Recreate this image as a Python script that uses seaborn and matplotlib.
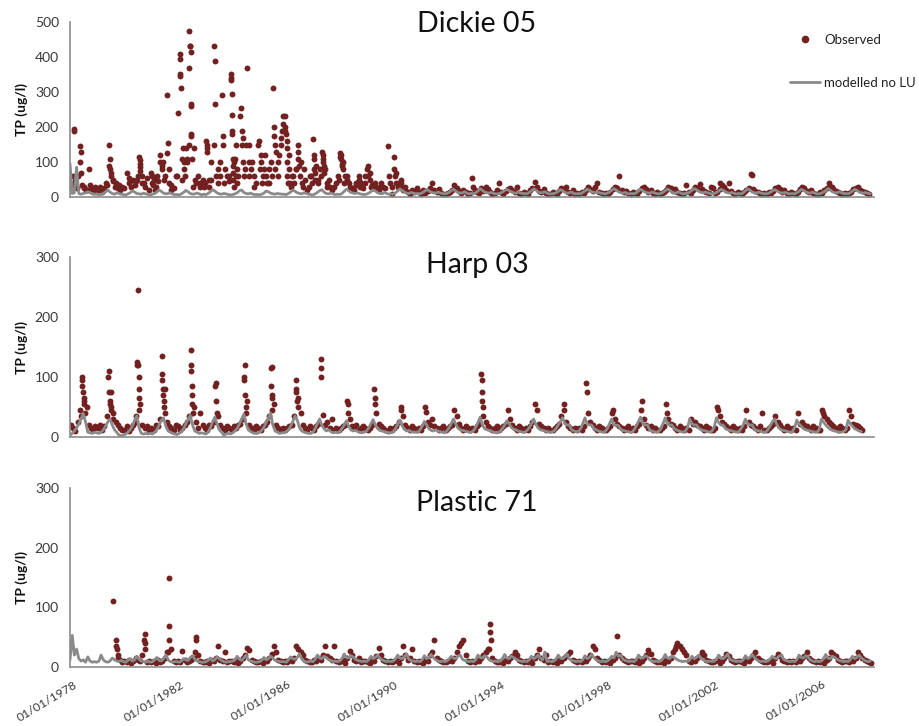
import numpy as np
import pandas as pd
import matplotlib
matplotlib.use("Agg")
import matplotlib.pyplot as plt
import matplotlib.dates as mdates
import matplotlib.transforms as mtransforms
from matplotlib.lines import Line2D
import seaborn as sns

N = None

# ---------------- Dickie 05 ----------------
dickie_obs = [
    30, 60, 40, 60, 100, 35, 25, 20, 80, 25, 15, 30,
    20, 30, 15, 25, 35, 90, 60, 45, 40, 25, 20, 30,
    25, 70, 40, 30, 50, 45, 60, 95, 40, 30, 55, 20,
    70, 50, 30, 45, 100, 80, 60, 125, 40, 35, 25, 60,
    240, 345, 110, 60, 100, 150, 180, 140, 40, 60, 30, 50,
    40, 150, 30, 50, 150, 60, 40, 100, 175, 80, 60, 45,
    190, 100, 150, 60, 230, 170, 80, 370, 150, 100, 60, 40,
    150, 100, 60, 120, 40, 80, 60, 200, 130, 100, 150, 210,
    200, 160, 120, 60, 40, 80, 150, 100, 30, 50, 20, 60,
    40, 120, 90, 50, 60, 110, 80, 40, 30, 20, 30, 40,
    50, 120, 100, 60, 50, 30, 25, 20, 35, 60, 40, 25,
    60, 90, 70, 35, 30, 25, 20, 40, 30, 25, 145, 40,
    30, 115, 70, 40, 50, 20, 30, 15, 10, 20, 15, 25,
    15, 10, 20, 12, 18, 25, 40, 20, 15, 22, 12, 10,
    8, 12, 15, 20, 35, 25, 18, 12, 20, 15, 10, 12,
    55, 20, 15, 12, 25, 18, 30, 22, 15, 10, 12, 20,
    40, 15, 10, 18, 22, 25, 20, 15, 28, 12, 10, 15,
    12, 10, 20, 25, 44, 30, 18, 15, 22, 12, 8, 10,
    15, 12, 10, 18, 25, 22, 30, 15, 12, 20, 10, 12,
    10, 15, 12, 20, 28, 22, 18, 30, 40, 15, 12, 10,
    12, 10, 15, 22, 30, 25, 61, 20, 15, 18, 12, 10,
    15, 12, 10, 18, 25, 30, 22, 15, 20, 12, 10, 15,
    10, 12, 15, 20, 28, 25, 18, 22, 15, 12, 10, 12,
    35, 15, 12, 20, 30, 25, 38, 22, 18, 15, 12, 30,
    25, 12, 15, 22, 35, 30, 20, 40, 18, 12, 10, 15,
    12, 10, 15, 20, 25, 65, 22, 18, 15, 12, 10, 12,
    10, 15, 12, 18, 25, 30, 22, 15, 20, 12, 10, 15,
    12, 10, 15, 22, 28, 25, 18, 15, 20, 12, 10, 10,
    15, 12, 20, 25, 40, 30, 22, 18, 15, 12, 10, 12,
    10, 12, 15, 22, 25, 30, 20, 18, 15, 12, 10, N,
]
dickie_extra_dates = [
    "1978-02-20", "1978-02-25", "1978-05-20", "1978-05-28", "1978-06-05",
    "1978-03-10", "1978-04-05", "1978-07-10", "1978-08-05", "1978-10-05", "1978-11-10",
    "1979-06-20", "1979-06-25", "1979-07-02", "1979-07-10",
    "1979-02-10", "1979-04-10", "1979-05-05", "1979-08-05", "1979-09-05", "1979-11-05",
    "1980-08-05", "1980-08-10", "1980-08-15", "1980-08-20",
    "1980-03-10", "1980-04-05", "1980-06-05", "1980-07-05", "1980-09-05", "1980-10-05",
    "1981-01-20", "1981-01-25", "1981-05-10", "1981-06-10", "1981-08-20", "1981-09-05", "1981-09-10",
    "1981-02-10", "1981-03-10", "1981-04-05", "1981-06-25", "1981-07-05", "1981-10-05",
    "1982-02-05", "1982-02-10", "1982-02-15", "1982-02-25", "1982-03-25", "1982-04-05", "1982-04-10",
    "1982-06-15", "1982-06-20", "1982-06-25", "1982-07-01", "1982-07-05", "1982-07-08", "1982-07-10",
    "1982-07-15", "1982-07-20",
    "1982-01-05", "1982-03-05", "1982-05-05", "1982-05-20", "1982-08-05", "1982-09-05", "1982-11-05",
    "1983-02-05", "1983-02-10", "1983-02-20", "1983-05-20", "1983-05-28", "1983-06-05", "1983-09-10",
    "1983-09-15",
    "1983-01-05", "1983-03-10", "1983-04-10", "1983-07-10", "1983-08-05", "1983-10-10", "1983-12-05",
    "1984-01-05", "1984-01-08", "1984-01-12", "1984-01-15", "1984-01-20", "1984-01-25", "1984-02-01",
    "1984-02-05", "1984-02-08", "1984-02-10", "1984-02-12", "1984-03-05", "1984-03-25", "1984-05-25",
    "1984-06-01", "1984-06-05", "1984-09-05", "1984-09-10",
    "1984-03-15", "1984-04-05", "1984-06-20", "1984-07-05", "1984-08-05", "1984-10-05", "1984-11-20",
    "1985-01-20", "1985-02-10", "1985-03-10", "1985-08-10", "1985-08-20", "1985-08-25", "1985-10-20",
    "1985-11-20", "1985-12-05", "1985-12-20",
    "1985-02-20", "1985-04-05", "1985-05-05", "1985-06-05", "1985-07-10", "1985-09-05", "1985-10-05",
    "1986-01-10", "1986-01-15", "1986-01-25", "1986-02-05", "1986-02-10", "1986-02-15", "1986-02-20",
    "1986-06-20", "1986-07-05", "1986-07-10", "1986-07-20",
    "1986-03-05", "1986-03-20", "1986-04-10", "1986-05-10", "1986-08-05", "1986-09-05", "1986-10-05",
    "1986-12-05",
    "1987-02-05", "1987-02-10", "1987-02-20", "1987-02-25", "1987-06-10", "1987-06-15", "1987-06-20",
    "1987-06-25", "1987-07-05",
    "1987-01-05", "1987-03-05", "1987-04-05", "1987-05-05", "1987-08-05", "1987-09-05",
    "1988-02-05", "1988-02-10", "1988-02-20", "1988-02-25", "1988-03-05", "1988-03-10", "1988-10-20",
    "1988-01-10", "1988-04-05", "1988-05-05", "1988-06-05", "1988-09-05", "1988-11-05",
    "1989-02-05", "1989-02-15", "1989-03-20", "1989-05-20", "1989-06-10",
    "1989-01-10", "1989-04-05", "1989-05-05", "1989-08-05", "1989-12-05",
    "1990-01-20", "1990-02-10", "1990-02-20", "1990-05-20",
    "1990-03-05", "1990-04-05", "1990-06-05", "1990-07-05",
    "1993-01-25", "2002-04-20", "2003-07-05", "2006-06-20",
]
dickie_extra_vals = [
    195, 190, 145, 130, 70,
    45, 25, 30, 20, 35, 20,
    150, 110, 80, 70,
    25, 20, 40, 50, 30, 35,
    115, 105, 85, 75,
    55, 45, 35, 50, 60, 40,
    60, 40, 120, 90, 290, 155, 80,
    35, 20, 60, 100, 50, 20,
    410, 395, 350, 310, 140, 100, 80,
    370, 475, 430, 430, 415, 175, 265,
    260, 110,
    60, 50, 140, 110, 30, 50, 40,
    160, 140, 130, 430, 390, 265, 290,
    150,
    30, 50, 100, 80, 60, 40, 60,
    350, 340, 335, 295, 235, 180, 110,
    90, 70, 50, 30, 110, 80, 255,
    190, 150, 100, 60,
    60, 40, 100, 60, 150, 80, 30,
    160, 80, 40, 310, 175, 150, 120,
    170, 190, 230,
    120, 80, 60, 40, 100, 80, 60,
    230, 190, 180, 140, 100, 60, 40,
    80, 130, 110, 90,
    80, 40, 30, 60, 60, 40, 80,
    30,
    165, 110, 80, 70, 130, 120, 100,
    90, 70,
    60, 50, 40, 80, 30, 50,
    125, 115, 110, 95, 90, 80, 50,
    60, 40, 60, 40, 40, 30,
    80, 60, 50, 40, 30,
    40, 30, 25, 30, 60,
    10, 80, 60, 40,
    40, 30, 25, 20,
    30, 40, 62, 30,
]
dickie_mod = [
    95, 10, 12, 85, 10, 8, 10, 12, 15, 12, 10, 8,
    8, 6, 8, 10, 15, 20, 14, 10, 8, 12, 10, 8,
    7, 6, 9, 12, 18, 14, 10, 9, 8, 11, 9, 7,
    6, 8, 10, 14, 20, 16, 11, 9, 10, 12, 8, 7,
    7, 6, 9, 13, 19, 15, 10, 8, 9, 11, 9, 6,
    8, 7, 10, 15, 21, 17, 12, 9, 8, 10, 9, 7,
    6, 7, 9, 12, 18, 20, 13, 10, 9, 11, 8, 7,
    7, 6, 8, 11, 17, 15, 11, 9, 8, 10, 9, 8,
    8, 7, 10, 14, 20, 16, 12, 10, 9, 12, 10, 8,
    7, 6, 9, 13, 18, 21, 14, 10, 9, 11, 9, 7,
    8, 7, 10, 16, 22, 18, 13, 11, 10, 12, 9, 8,
    7, 8, 11, 15, 20, 17, 12, 10, 9, 13, 10, 8,
    9, 8, 12, 17, 23, 19, 14, 11, 10, 13, 11, 9,
    10, 9, 12, 16, 21, 18, 14, 12, 11, 14, 12, 10,
    9, 10, 13, 18, 22, 17, 13, 11, 12, 15, 11, 9,
    10, 9, 12, 17, 24, 19, 14, 12, 11, 13, 10, 9,
    9, 11, 14, 19, 22, 18, 15, 12, 11, 14, 12, 10,
    10, 9, 13, 18, 23, 20, 14, 12, 13, 15, 11, 9,
    9, 10, 12, 16, 21, 18, 13, 11, 12, 14, 10, 9,
    10, 9, 13, 17, 22, 19, 15, 13, 12, 14, 11, 10,
    9, 11, 14, 19, 24, 20, 15, 12, 11, 13, 10, 9,
    10, 9, 12, 17, 22, 18, 14, 12, 11, 14, 12, 10,
    9, 10, 13, 18, 23, 19, 14, 11, 12, 15, 11, 9,
    10, 11, 14, 19, 24, 21, 16, 13, 12, 14, 12, 10,
    9, 10, 13, 17, 22, 19, 15, 12, 11, 13, 10, 9,
    10, 9, 12, 18, 23, 20, 14, 12, 11, 14, 11, 10,
    9, 10, 13, 17, 21, 18, 14, 11, 12, 13, 10, 9,
    10, 9, 12, 16, 22, 19, 15, 12, 11, 14, 11, 9,
    9, 11, 14, 18, 24, 20, 15, 12, 12, 15, 12, 10,
    10, 9, 12, 17, 22, 19, 14, 12, 11, 13, 10, 9,
]

# ---------------- Harp 03 ----------------
harp_obs = [
    20, 15, 10, 25, 45, 100, 60, 50, 20, 15, 12, 18,
    15, 20, 12, 18, 35, 110, 75, 40, 25, 20, 15, 12,
    12, 18, 10, 15, 20, 25, 120, 55, 20, 15, 18, 12,
    15, 12, 20, 18, 30, 105, 80, 25, 18, 15, 12, 20,
    18, 12, 15, 20, 25, 35, 145, 50, 25, 15, 40, 20,
    15, 12, 20, 18, 25, 90, 35, 20, 15, 12, 18, 15,
    12, 18, 15, 20, 22, 30, 120, 60, 20, 15, 12, 18,
    15, 12, 18, 20, 25, 35, 117, 55, 20, 15, 12, 15,
    12, 15, 18, 20, 35, 95, 65, 40, 20, 15, 12, 18,
    15, 12, 18, 22, 130, 37, 20, 25, 15, 30, 12, 15,
    12, 15, 18, 20, 60, 30, 18, 15, 20, 12, 15, 18,
    15, 12, 15, 20, 80, 40, 22, 18, 15, 12, 10, 15,
    12, 15, 18, 25, 50, 35, 20, 15, 12, 18, 15, 12,
    15, 12, 18, 50, 25, 20, 30, 18, 15, 12, 15, 18,
    12, 15, 18, 20, 45, 35, 22, 15, 12, 18, 15, 12,
    15, 12, 18, 22, 105, 50, 25, 18, 15, 12, 15, 18,
    12, 15, 18, 22, 45, 30, 20, 15, 12, 18, 15, 12,
    15, 12, 18, 25, 55, 45, 22, 18, 15, 12, 15, 12,
    12, 15, 18, 22, 35, 55, 25, 18, 15, 12, 15, 12,
    15, 12, 18, 90, 40, 25, 20, 15, 12, 18, 15, 12,
    12, 15, 18, 45, 30, 22, 18, 15, 12, 15, 18, 12,
    15, 12, 18, 22, 60, 30, 20, 15, 18, 12, 15, 12,
    12, 15, 18, 55, 30, 22, 20, 15, 12, 18, 15, 12,
    15, 12, 30, 22, 25, 20, 18, 15, 12, 18, 15, 12,
    12, 15, 50, 35, 25, 22, 18, 15, 12, 18, 15, 12,
    15, 12, 18, 45, 25, 20, 18, 15, 12, 18, 40, 12,
    12, 15, 18, 22, 35, 25, 20, 15, 12, 18, 15, 12,
    15, 12, 40, 22, 25, 20, 18, 15, 12, 18, 15, 12,
    12, 45, 35, 30, 25, 22, 18, 15, 12, 18, 15, 12,
    15, 45, 35, 22, 20, 18, 15, 12, N, N, N, N,
]
harp_extra_dates = [
    "1978-06-01", "1978-06-10", "1978-06-20", "1978-06-25", "1978-07-05", "1978-07-10", "1978-07-20",
    "1979-06-10", "1979-06-20", "1979-06-25", "1979-07-01", "1979-07-10", "1979-07-20", "1979-08-05",
    "1980-06-20", "1980-07-05", "1980-07-10", "1980-07-20", "1980-07-25", "1980-07-28", "1980-08-01",
    "1980-08-05",
    "1981-06-05", "1981-06-15", "1981-06-20", "1981-06-25", "1981-07-05", "1981-07-10", "1981-07-20",
    "1982-07-05", "1982-07-10", "1982-07-20", "1982-07-25", "1982-07-28", "1982-08-01",
    "1983-06-10", "1983-06-20", "1983-06-25",
    "1984-07-05", "1984-07-10", "1984-07-20", "1984-07-25", "1984-08-01",
    "1985-07-05", "1985-07-10", "1985-07-15", "1985-07-20", "1985-07-25",
    "1986-06-10", "1986-06-20", "1986-06-25", "1986-07-05",
    "1987-05-20", "1987-05-25", "1988-05-20", "1988-05-25", "1989-05-20", "1989-05-25",
    "1990-05-20", "1991-04-25",
    "1993-05-20", "1993-05-25", "1993-06-01", "1993-06-05",
    "1996-06-15", "1997-04-25", "1998-04-10", "1999-05-05", "2000-04-25", "2002-03-25", "2006-02-25",
]
harp_extra_vals = [
    35, 95, 85, 75, 65, 55, 40,
    100, 75, 60, 55, 50, 45, 30,
    35, 125, 120, 245, 100, 80, 65,
    45,
    135, 95, 80, 70, 60, 50, 40,
    120, 110, 85, 70, 55, 40,
    85, 60, 40,
    100, 95, 70, 50, 40,
    115, 85, 70, 65, 45,
    80, 75, 60, 50,
    115, 100, 55, 40, 65, 55,
    45, 42,
    95, 75, 60, 35,
    45, 75, 40, 45, 40, 45, 40,
]
harp_mod = [
    3, 6, 10, 15, 22, 30, 39, 25, 8, 7, 6, 8,
    7, 6, 8, 12, 18, 25, 30, 20, 12, 8, 3, 2,
    3, 5, 8, 12, 18, 28, 35, 15, 6, 5, 6, 5,
    6, 5, 8, 12, 20, 28, 32, 18, 10, 8, 6, 5,
    4, 6, 9, 14, 22, 30, 36, 20, 10, 8, 6, 7,
    6, 5, 8, 15, 25, 33, 22, 12, 8, 3, 5, 6,
    5, 7, 10, 14, 22, 30, 38, 22, 12, 9, 7, 6,
    6, 8, 11, 16, 24, 32, 40, 20, 10, 8, 6, 7,
    7, 9, 12, 18, 26, 35, 28, 15, 10, 8, 7, 6,
    6, 8, 14, 22, 30, 20, 14, 10, 12, 9, 7, 8,
    7, 9, 14, 20, 27, 18, 12, 10, 11, 9, 8, 7,
    8, 10, 15, 22, 29, 20, 14, 11, 10, 9, 8, 7,
    7, 9, 14, 21, 28, 19, 13, 10, 11, 9, 8, 8,
    8, 12, 18, 26, 20, 14, 11, 10, 12, 10, 9, 8,
    7, 10, 15, 22, 30, 22, 15, 12, 11, 10, 9, 8,
    8, 11, 16, 24, 33, 20, 14, 12, 11, 10, 8, 7,
    7, 10, 14, 20, 27, 22, 16, 13, 12, 10, 9, 8,
    8, 11, 15, 22, 30, 21, 15, 12, 11, 10, 9, 8,
    8, 10, 14, 20, 26, 32, 22, 20, 20, 12, 10, 9,
    9, 14, 22, 32, 22, 20, 20, 14, 12, 10, 9, 8,
    9, 14, 22, 30, 20, 20, 19, 13, 11, 10, 9, 8,
    8, 12, 18, 26, 33, 22, 20, 20, 12, 10, 9, 8,
    9, 14, 22, 32, 22, 20, 20, 14, 12, 10, 9, 8,
    10, 16, 30, 22, 20, 20, 15, 12, 11, 10, 9, 8,
    10, 18, 32, 24, 20, 20, 14, 12, 11, 10, 9, 8,
    9, 14, 20, 30, 22, 20, 20, 13, 11, 10, 9, 8,
    8, 12, 18, 25, 30, 21, 15, 12, 11, 10, 9, 8,
    9, 16, 28, 22, 18, 14, 12, 11, 10, 9, 8, 8,
    12, 30, 25, 20, 16, 13, 11, 10, 9, 8, 8, 9,
    12, 28, 22, 18, 14, 12, 10, 9, N, N, N, N,
]

# ---------------- Plastic 71 ----------------
plastic_obs = [
    N, N, N, N, N, N, N, N, N, N, N, N,
    N, N, N, N, N, N, N, 110, 45, 20, 12, 8,
    10, 8, 12, 6, 10, 15, 12, 10, 20, 55, 8, 10,
    8, 10, 6, 12, 8, 10, 15, 25, 150, 30, 10, 8,
    10, 8, 27, 12, 8, 10, 12, 15, 50, 20, 10, 8,
    8, 10, 6, 12, 10, 15, 35, 12, 10, 25, 8, 10,
    10, 8, 12, 6, 10, 15, 20, 32, 28, 12, 10, 8,
    8, 10, 6, 12, 10, 15, 22, 35, 25, 12, 10, 8,
    10, 8, 12, 10, 15, 35, 30, 25, 20, 12, 10, 8,
    8, 12, 10, 15, 12, 20, 35, 18, 15, 12, 35, 10,
    8, 10, 12, 6, 15, 27, 20, 12, 10, 15, 8, 10,
    10, 8, 6, 12, 10, 18, 32, 20, 12, 10, 8, 10,
    8, 10, 12, 6, 15, 35, 20, 12, 15, 30, 10, 8,
    10, 8, 6, 12, 10, 20, 25, 45, 15, 12, 10, 8,
    8, 10, 12, 10, 15, 25, 35, 40, 45, 20, 10, 8,
    10, 8, 12, 10, 15, 20, 25, 30, 72, 15, 10, 8,
    8, 10, 6, 12, 10, 15, 18, 25, 20, 12, 10, 8,
    10, 8, 12, 6, 15, 20, 30, 15, 12, 20, 8, 10,
    8, 10, 6, 12, 10, 15, 18, 22, 25, 12, 10, 8,
    10, 8, 12, 10, 15, 20, 35, 30, 15, 12, 8, 10,
    8, 10, 6, 12, 15, 52, 20, 15, 12, 10, 8, 10,
    10, 8, 12, 6, 10, 15, 20, 28, 22, 12, 10, 8,
    8, 10, 6, 12, 10, 15, 25, 30, 40, 35, 30, 25,
    20, 10, 8, 12, 10, 15, 18, 25, 20, 12, 10, 8,
    8, 10, 12, 6, 10, 15, 22, 18, 12, 10, 8, 10,
    10, 8, 6, 12, 10, 15, 20, 25, 15, 12, 10, 8,
    8, 10, 12, 6, 15, 22, 18, 12, 10, 8, 10, 8,
    10, 8, 12, 10, 15, 18, 25, 15, 12, 10, 8, 10,
    8, 10, 6, 12, 15, 25, 22, 18, 12, 10, 8, 10,
    10, 8, 12, 10, 15, 25, 20, 15, 12, 10, 8, 6,
]
plastic_extra_dates = [
    "1979-09-20", "1979-10-05", "1979-10-25",
    "1980-10-05", "1980-10-20", "1980-10-25",
    "1981-08-25", "1981-09-10", "1981-09-20",
    "1982-09-05", "1982-09-20",
    "1993-08-25", "1993-09-10", "1993-09-20",
    "2000-08-25",
]
plastic_extra_vals = [
    35, 30, 15,
    45, 40, 30,
    25, 68, 45,
    25, 45,
    30, 58, 45,
    35,
]
plastic_mod = [
    12, 53, 20, 30, 14, 10, 12, 8, 17, 10, 8, 9,
    8, 10, 20, 12, 9, 8, 10, 15, 12, 10, 9, 11,
    9, 8, 11, 14, 10, 12, 18, 13, 10, 9, 8, 10,
    8, 9, 12, 16, 11, 10, 14, 20, 12, 9, 8, 9,
    9, 8, 10, 14, 12, 11, 16, 19, 13, 10, 9, 8,
    8, 9, 11, 15, 10, 12, 17, 14, 11, 9, 8, 9,
    9, 10, 12, 18, 13, 11, 15, 20, 12, 10, 9, 8,
    8, 9, 11, 16, 12, 14, 18, 15, 11, 10, 9, 9,
    9, 8, 12, 17, 14, 13, 16, 22, 13, 10, 8, 9,
    10, 9, 13, 20, 15, 14, 18, 16, 12, 11, 9, 10,
    9, 10, 14, 22, 16, 15, 19, 17, 13, 11, 10, 9,
    10, 9, 12, 18, 14, 16, 20, 15, 12, 10, 9, 10,
    9, 10, 13, 20, 15, 14, 17, 22, 13, 11, 10, 9,
    10, 9, 12, 19, 14, 16, 21, 16, 12, 10, 9, 10,
    9, 10, 13, 18, 15, 14, 18, 20, 13, 11, 10, 9,
    10, 9, 12, 20, 16, 15, 19, 17, 12, 10, 9, 10,
    9, 10, 14, 21, 15, 14, 18, 16, 13, 11, 10, 9,
    10, 9, 12, 18, 14, 16, 20, 15, 12, 25, 9, 10,
    9, 10, 13, 20, 15, 14, 17, 22, 13, 11, 10, 9,
    10, 9, 12, 19, 14, 16, 21, 16, 12, 10, 9, 10,
    9, 10, 13, 18, 15, 25, 18, 20, 13, 11, 10, 9,
    10, 9, 12, 20, 16, 15, 19, 17, 12, 10, 9, 10,
    9, 10, 14, 21, 15, 14, 18, 16, 13, 11, 10, 9,
    10, 9, 12, 18, 14, 16, 20, 15, 12, 10, 9, 10,
    9, 10, 13, 20, 15, 14, 17, 22, 13, 11, 10, 9,
    10, 9, 12, 19, 14, 16, 21, 16, 12, 10, 9, 10,
    9, 10, 13, 18, 15, 14, 18, 20, 13, 11, 10, 9,
    10, 9, 12, 20, 16, 15, 19, 17, 12, 10, 9, 10,
    9, 10, 14, 21, 15, 14, 18, 16, 13, 11, 10, 9,
    10, 9, 12, 18, 14, 16, 20, 15, 12, 10, 9, 10,
]

titles = ["Dickie 05", "Harp 03", "Plastic 71"]
y_maxes = [500, 300, 300]
tick_years = [1978, 1982, 1986, 1990, 1994, 1998, 2002, 2006]
y_label = "TP (ug/l)"
legend_labels = ["Observed", "modelled no LU"]

# ---------------- style ----------------
sns.set_style("white")
plt.rcParams["font.family"] = ["Lato", "DejaVu Sans"]

OBS_COLOR = "#722020"
MOD_COLOR = "#8a8a8a"
AXIS_COLOR = "#8c8c8c"
TEXT_COLOR = "#3a3a3a"

W, H = 919, 726
fig = plt.figure(figsize=(W / 100, H / 100), dpi=100)

left_px, right_px = 70, 874
boxes = [(22, 197), (257, 437), (488, 667)]
title_y_px = [24, 265, 503]

month_starts = pd.date_range("1978-01-01", periods=360, freq="MS")
obs_dates = month_starts + pd.Timedelta(days=14)

panels = [
    (dickie_obs, dickie_mod, dickie_extra_dates, dickie_extra_vals),
    (harp_obs, harp_mod, harp_extra_dates, harp_extra_vals),
    (plastic_obs, plastic_mod, plastic_extra_dates, plastic_extra_vals),
]

xmin = pd.Timestamp("1978-01-01")
xmax = pd.Timestamp("2008-01-20")

for i, (obs, mod, ex_d, ex_v) in enumerate(panels):
    top, bot = boxes[i]
    ax = fig.add_axes([left_px / W, 1 - bot / H, (right_px - left_px) / W, (bot - top) / H])
    obs_df = pd.DataFrame({
        "date": list(obs_dates) + list(pd.to_datetime(ex_d)),
        "tp": [np.nan if v is None else v for v in obs] + list(ex_v),
    }).dropna()
    mod_df = pd.DataFrame({
        "date": month_starts,
        "tp": [np.nan if v is None else v for v in mod],
    }).dropna()
    sns.scatterplot(data=obs_df, x="date", y="tp", ax=ax, color=OBS_COLOR,
                    s=18, linewidth=0, zorder=2, legend=False)
    sns.lineplot(data=mod_df, x="date", y="tp", ax=ax, color=MOD_COLOR,
                 lw=2.0, estimator=None, zorder=3, legend=False)
    ax.set_xlim(xmin, xmax)
    ax.set_ylim(0, y_maxes[i])
    ax.set_yticks(np.arange(0, y_maxes[i] + 1, 100))
    ax.set_xticks([pd.Timestamp(f"{y}-01-01") for y in tick_years])
    ax.xaxis.set_major_formatter(mdates.DateFormatter("%d/%m/%Y"))
    for s in ["top", "right"]:
        ax.spines[s].set_visible(False)
    for s in ["left", "bottom"]:
        ax.spines[s].set_color(AXIS_COLOR)
        ax.spines[s].set_linewidth(1.2)
    ax.tick_params(axis="both", which="major", direction="out", length=4,
                   width=1, color=AXIS_COLOR, labelcolor=TEXT_COLOR, labelsize=10)
    ax.tick_params(axis="y", pad=4)
    ax.set_xlabel("")
    ax.set_ylabel(y_label, fontsize=10, fontweight="bold", color="#111111")
    ax.yaxis.set_label_coords(-0.052, 0.5)
    if i < 2:
        ax.tick_params(axis="x", labelbottom=False)
    else:
        ax.tick_params(axis="x", pad=4.5, labelsize=8.8)
        offset = mtransforms.ScaledTranslation(3 / 100, 0, fig.dpi_scale_trans)
        for lab in ax.get_xticklabels():
            lab.set_rotation(31)
            lab.set_ha("right")
            lab.set_va("top")
            lab.set_rotation_mode("anchor")
            lab.set_transform(lab.get_transform() + offset)
    fig.text(477 / W, 1 - title_y_px[i] / H, titles[i], ha="center", va="center",
             fontsize=20.5, color="#111111")

handles = [
    Line2D([], [], marker="o", color=OBS_COLOR, linestyle="none", markersize=4.5),
    Line2D([], [], color=MOD_COLOR, lw=2.0),
]
fig.legend(handles, legend_labels, loc="upper left", bbox_to_anchor=(790 / W, 1 - 34 / H),
           frameon=False, fontsize=9.5, labelspacing=2.35, handlelength=2.3,
           handletextpad=0.3, borderaxespad=0, borderpad=0,
           labelcolor="#222222")

fig.savefig("out.png", dpi=100)
